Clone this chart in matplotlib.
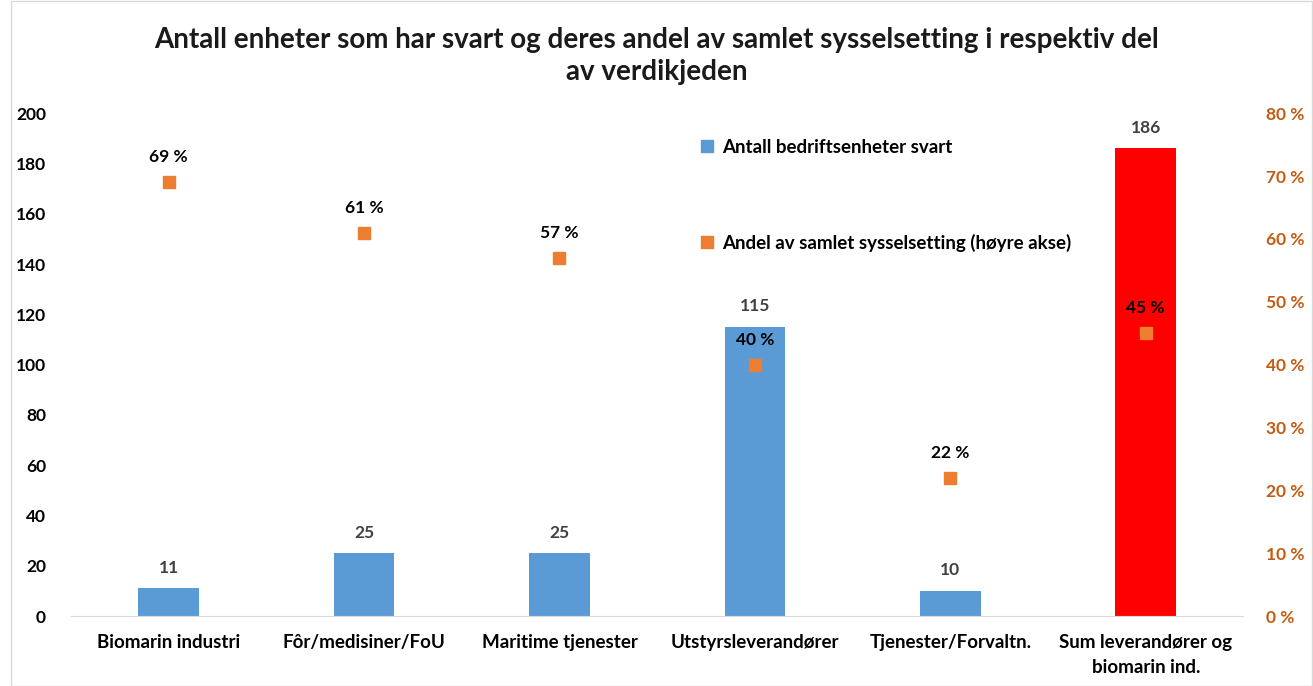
import matplotlib.pyplot as plt
import numpy as np
from matplotlib.patches import Patch

plt.rcParams['font.family'] = ['Lato', 'DejaVu Sans']
plt.rcParams['font.weight'] = 'bold'

kategorier = ['Biomarin industri', 'Fôr/medisiner/FoU', 'Maritime tjenester',
              'Utstyrsleverandører', 'Tjenester/Forvaltn.',
              'Sum leverandører og\nbiomarin ind.']
antall = [11, 25, 25, 115, 10, 186]
andel = [69, 61, 57, 40, 22, 45]

blaa = '#5B9BD5'
oransje = '#ED7D31'
roed = '#FF0000'

fig = plt.figure(figsize=(13.13, 6.86), dpi=100)
ax = fig.add_axes([0.054, 0.102, 0.893, 0.733])
ax2 = ax.twinx()

x = np.arange(len(kategorier))
farger = [blaa] * (len(kategorier) - 1) + [roed]
ax.bar(x, antall, width=0.31, color=farger, zorder=2,
       label='Antall bedriftsenheter svart')
for xi, v in zip(x, antall):
    ax.text(xi, v + 5, str(v), ha='center', va='bottom', fontsize=12.5,
            color='#404040', fontweight='bold')

ax.set_xlim(-0.5, len(kategorier) - 0.5)
ax.set_ylim(0, 200)
ax.set_yticks(np.arange(0, 201, 20))
ax.set_xticks(x)
ax.set_xticklabels(kategorier, fontsize=13.5, linespacing=1.6)
ax.tick_params(axis='x', length=0, pad=13)
ax.tick_params(axis='y', length=0, labelsize=12.5, pad=18)
for s in ['top', 'right', 'left']:
    ax.spines[s].set_visible(False)
ax.spines['bottom'].set_color('#D9D9D9')

ax2.plot(x, andel, 's', color=oransje, ms=9, zorder=3,
         label='Andel av samlet sysselsetting (høyre akse)')
for xi, p in zip(x, andel):
    ax2.text(xi, p + 2.7, f'{p} %', ha='center', va='bottom', fontsize=12.5,
             color='black', fontweight='bold')
ax2.set_ylim(0, 80)
ax2.set_yticks(np.arange(0, 81, 10))
ax2.set_yticklabels([f'{t} %' for t in range(0, 81, 10)])
ax2.tick_params(axis='y', length=0, labelsize=12.5, labelcolor='#C55A11', pad=16)
for s in ['top', 'right', 'left', 'bottom']:
    ax2.spines[s].set_visible(False)

l1 = ax.get_legend_handles_labels()[1]
l2 = ax2.get_legend_handles_labels()[1]
handles = [Patch(color=blaa), Patch(color=oransje)]
ax.legend(handles, l1 + l2, loc='upper left', bbox_to_anchor=(0.523, 0.983),
          frameon=False, fontsize=13.5, labelspacing=4.15, handlelength=0.65,
          handleheight=0.65, handletextpad=0.5)

fig.text(0.5, 0.918, 'Antall enheter som har svart og deres andel av samlet sysselsetting i respektiv del\nav verdikjeden',
         ha='center', va='center', fontsize=20, fontweight='bold',
         color='#1a1a1a', linespacing=1.3)

# tynn ramme rundt hele figuren
fig.patches.append(plt.Rectangle((0.008, 0.0), 0.991, 0.999, transform=fig.transFigure,
                                 fill=False, edgecolor='#D9D9D9', lw=1))

fig.savefig('out.png', dpi=100)
